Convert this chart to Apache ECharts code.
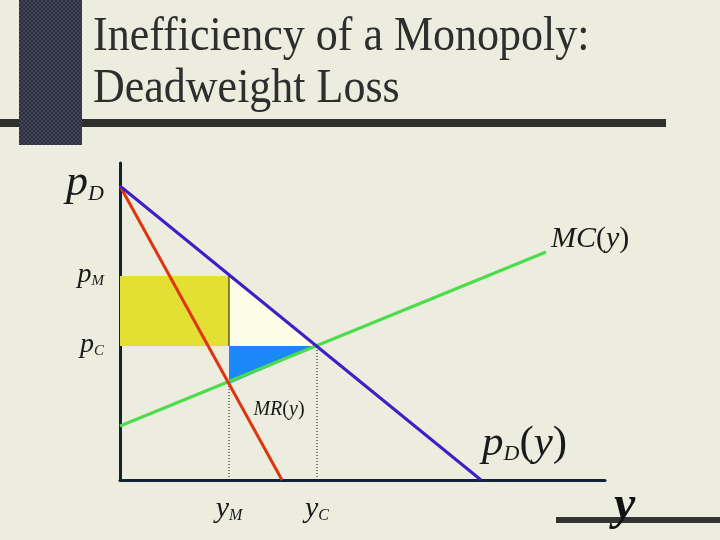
<!DOCTYPE html>
<html>
<head>
<meta charset="utf-8">
<title>Inefficiency of a Monopoly</title>
<script src="https://cdn.jsdelivr.net/npm/echarts@6/dist/echarts.min.js"></script>
<style>
  html, body { margin: 0; padding: 0; background: #ececdf; }
  #chart { width: 720px; height: 540px; }
</style>
</head>
<body>
<div id="chart"></div>
<script>
// quantity on x, price on y (arbitrary units)
const demandLine = [[0, 294], [361, 0]];
const mrLine = [[0, 294], [162, 0]];
const mcLine = [[0, 54], [426, 228]];

// p_C, p_M, p_D
const priceTicks = [134, 204, 294];
const priceSubs = ['C', 'M', 'D'];
// y_M, y_C
const qtyTicks = [109, 197];
const qtySubs = ['M', 'C'];

// shaded areas
const profitRect = [[0, 204], [109, 204], [109, 134], [0, 134]];
const lossUpper = [[109, 204], [109, 134], [197, 134]];
const lossLower = [[109, 134], [197, 134], [109, 96]];

// dotted drop lines
const dropM = [[109, 0], [109, 96]];
const dropC = [[197, 0], [197, 134]];

const serif = 'Liberation Serif';
const ink = '#1a1a1a';

function it(size, extra) {
  return Object.assign({fontFamily: serif, fontStyle: 'italic', fontSize: size, color: ink}, extra || {});
}
function up(size, extra) {
  return Object.assign({fontFamily: serif, fontStyle: 'normal', fontSize: size, color: ink}, extra || {});
}

function polygonSeries(name, points, fill, edge) {
  return {
    name: name,
    type: 'custom',
    silent: true,
    z: 1,
    data: [0],
    renderItem: function (params, api) {
      const pts = points.map(p => api.coord(p));
      const children = [{
        type: 'polygon',
        shape: {points: pts},
        style: {fill: fill}
      }];
      if (edge) {
        // thin black edge on the left side and along the demand curve
        children.push({
          type: 'polyline',
          shape: {points: [pts[1], pts[0], pts[2]]},
          style: {stroke: '#111', lineWidth: 1, fill: null}
        });
      }
      return {type: 'group', children: children};
    }
  };
}

function makeDotPattern() {
  const c = document.createElement('canvas');
  c.width = 4;
  c.height = 4;
  const ctx = c.getContext('2d');
  ctx.fillStyle = '#42455a';
  ctx.fillRect(0, 0, 4, 4);
  ctx.fillStyle = '#2c2e3c';
  ctx.fillRect(0, 0, 2, 2);
  ctx.fillRect(2, 2, 2, 2);
  return c;
}

const chart = echarts.init(document.getElementById('chart'));

const option = {
  backgroundColor: '#ececdf',
  animation: false,
  grid: {left: 120, top: 163, width: 485, height: 317},
  xAxis: {
    type: 'value',
    min: 0,
    max: 485,
    splitLine: {show: false},
    axisTick: {show: false},
    axisLine: {show: true, lineStyle: {color: '#0f2438', width: 3}},
    axisLabel: {
      customValues: qtyTicks,
      margin: 14,
      formatter: function (v) {
        const i = qtyTicks.indexOf(v);
        return '{y|y}{s|' + qtySubs[i] + '}';
      },
      rich: {
        y: it(30, {verticalAlign: 'bottom', lineHeight: 30}),
        s: it(16, {verticalAlign: 'bottom', lineHeight: 24})
      }
    },
    name: '{y|y}',
    nameLocation: 'end',
    nameGap: 9,
    nameTextStyle: {
      rich: {
        y: {fontFamily: serif, fontStyle: 'italic', fontWeight: 'bold', fontSize: 48, color: '#111', padding: [54, 0, 0, 0]}
      }
    }
  },
  yAxis: {
    type: 'value',
    min: 0,
    max: 317,
    splitLine: {show: false},
    axisTick: {show: false},
    axisLine: {show: true, lineStyle: {color: '#0f2438', width: 3}},
    axisLabel: {
      customValues: priceTicks,
      margin: 16,
      formatter: function (v) {
        const i = priceTicks.indexOf(v);
        return priceSubs[i] === 'D' ? '{P|p}{S|D}' : '{p|p}{s|' + priceSubs[i] + '}';
      },
      rich: {
        P: it(44, {verticalAlign: 'bottom', lineHeight: 38}),
        S: it(22, {verticalAlign: 'bottom', lineHeight: 26}),
        p: it(28, {verticalAlign: 'bottom', lineHeight: 26}),
        s: it(15, {verticalAlign: 'bottom', lineHeight: 19})
      }
    }
  },
  graphic: [
    // title rule
    {type: 'rect', left: 0, top: 119, z: 10, shape: {width: 666, height: 8}, style: {fill: '#2f2f2f'}},
    // dark block
    {type: 'rect', left: 19, top: 0, z: 11, shape: {width: 63, height: 145}, style: {fill: {image: makeDotPattern(), repeat: 'repeat'}}},
    // bottom rule
    {type: 'rect', left: 556, top: 517, z: 0, shape: {width: 164, height: 6}, style: {fill: '#333333'}},
    {
      type: 'text', left: 93, top: 12, z: 12, scaleY: 1.12,
      style: {text: 'Inefficiency of a Monopoly:', font: '44px "Liberation Serif"', fill: '#2e2e2e'}
    },
    {
      type: 'text', left: 93, top: 64, z: 12, scaleY: 1.12,
      style: {text: 'Deadweight Loss', font: '44px "Liberation Serif"', fill: '#2e2e2e'}
    }
  ],
  series: [
    polygonSeries('profit', profitRect, '#e3e033', false),
    polygonSeries('dwlUpper', lossUpper, '#fdfde6', true),
    polygonSeries('dwlLower', lossLower, '#1a88f6', false),
    {
      name: 'dropM',
      type: 'line',
      data: dropM,
      symbol: 'none',
      z: 2,
      lineStyle: {color: '#111', width: 1, type: [1, 2]}
    },
    {
      name: 'dropC',
      type: 'line',
      data: dropC,
      symbol: 'none',
      z: 2,
      lineStyle: {color: '#111', width: 1, type: [1, 2]}
    },
    {
      name: 'MC',
      type: 'line',
      data: mcLine,
      symbol: 'none',
      z: 3,
      lineStyle: {color: '#4cdc4c', width: 3},
      endLabel: {
        show: true,
        distance: 5,
        offset: [0, -13],
        formatter: '{m|MC}{u|(}{m|y}{u|)}',
        rich: {m: it(30), u: up(30)}
      }
    },
    {
      name: 'MR',
      type: 'line',
      data: mrLine,
      symbol: 'none',
      z: 4,
      lineStyle: {color: '#e0340f', width: 3},
      markPoint: {
        symbol: 'circle',
        symbolSize: 0,
        silent: true,
        data: [{coord: [159, 70]}],
        label: {
          show: true,
          position: 'inside',
          formatter: '{m|MR}{u|(}{m|y}{u|)}',
          rich: {m: it(20), u: up(20)}
        }
      }
    },
    {
      name: 'demand',
      type: 'line',
      data: demandLine,
      symbol: 'none',
      z: 5,
      lineStyle: {color: '#3d1fc6', width: 3},
      endLabel: {
        show: true,
        distance: 1,
        offset: [0, -36],
        formatter: '{p|p}{s|D}{u|(}{p|y}{u|)}',
        rich: {
          p: it(43, {verticalAlign: 'bottom', lineHeight: 42}),
          s: it(22, {verticalAlign: 'bottom', lineHeight: 32}),
          u: up(43, {verticalAlign: 'bottom', lineHeight: 42})
        }
      }
    }
  ]
};

chart.setOption(option);
</script>
</body>
</html>
